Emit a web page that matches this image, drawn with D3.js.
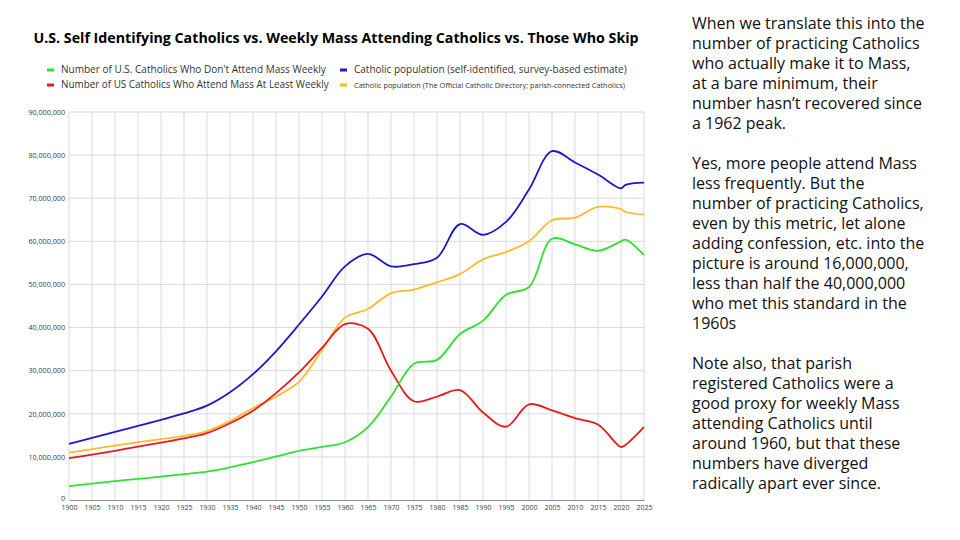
<!DOCTYPE html>
<html>
<head>
<meta charset="utf-8">
<script src="https://cdn.jsdelivr.net/npm/d3@7"></script>
<style>
  body { margin: 0; background: #fff; }
  svg { display: block; }
  .tick text { font-family: "Open Sans", sans-serif; fill: #404040; }
</style>
</head>
<body>
<div id="chart"></div>
<script>
// data
const years = [1900, 1905, 1910, 1915, 1920, 1925, 1930, 1935, 1940, 1945, 1950, 1955, 1960, 1965,
    1970, 1975, 1980, 1985, 1990, 1995, 2000, 2005, 2010, 2015, 2020, 2021, 2025];

const notAttending = [3.2, 3.8, 4.4, 4.9, 5.4, 6.0, 6.6, 7.6, 8.8, 10.1, 11.4, 12.3, 13.4, 16.9,
    24.0, 31.6, 32.5, 38.5, 41.6, 47.6, 49.4, 60.6, 59.3, 57.8, 60.0, 60.4, 56.8];
const weeklyAttending = [9.7, 10.5, 11.4, 12.4, 13.3, 14.3, 15.5, 17.8, 20.7, 24.8, 29.6, 35.3, 40.8, 39.7,
    30.0, 22.9, 24.0, 25.5, 20.3, 17.0, 22.2, 20.8, 19.0, 17.5, 12.3, 12.8, 16.9];
const selfIdentified = [13.0, 14.4, 15.8, 17.2, 18.6, 20.1, 21.9, 25.0, 29.2, 34.5, 40.7, 47.2, 54.2, 57.1,
    54.2, 54.7, 56.2, 64.0, 61.5, 64.5, 72.0, 80.9, 78.3, 75.5, 72.3, 73.1, 73.6];
const directory = [11.0, 11.8, 12.6, 13.4, 14.1, 14.9, 16.0, 18.3, 21.3, 24.0, 27.4, 34.8, 42.3, 44.3,
    48.0, 48.8, 50.5, 52.4, 55.8, 57.5, 60.0, 64.9, 65.5, 68.0, 67.5, 66.8, 66.2];

const xTicks = d3.range(1900, 2026, 5);
const yTicks = d3.range(0, 90000001, 10000000);

const title = "U.S. Self Identifying Catholics vs. Weekly Mass Attending Catholics vs. Those Who Skip";

const seriesNames = [
    "Number of U.S. Catholics Who Don't Attend Mass Weekly",
    "Catholic population (self-identified, survey-based estimate)",
    "Number of US Catholics Who Attend Mass At Least Weekly",
    "Catholic population (The Official Catholic Directory; parish-connected Catholics)"
];

const paragraphs = [
    ["When we translate this into the",
     "number of practicing Catholics",
     "who actually make it to Mass,",
     "at a bare minimum, their",
     "number hasn\u2019t recovered since",
     "a 1962 peak."],
    ["Yes, more people attend Mass",
     "less frequently. But the",
     "number of practicing Catholics,",
     "even by this metric, let alone",
     "adding confession, etc. into the",
     "picture is around 16,000,000,",
     "less than half the 40,000,000",
     "who met this standard in the",
     "1960s"],
    ["Note also, that parish",
     "registered Catholics were a",
     "good proxy for weekly Mass",
     "attending Catholics until",
     "around 1960, but that these",
     "numbers have diverged",
     "radically apart ever since."]
];

const width = 960, height = 540;
const margin = { top: 112, right: 316, bottom: 40, left: 69 };
const colors = { green: "#2fe22f", blue: "#1a1acb", red: "#e81c1c", yellow: "#f7bc2a" };

const svg = d3.select("#chart").append("svg")
    .attr("width", width)
    .attr("height", height);

const xScale = d3.scaleLinear().domain([1900, 2025]).range([margin.left, width - margin.right]);
const yScale = d3.scaleLinear().domain([0, 90000000]).range([height - margin.bottom, margin.top]);

// fit a text element to a target width by scaling its font size
function fitWidth(sel, target) {
    const w = sel.node().getComputedTextLength();
    const s = parseFloat(sel.attr("font-size"));
    sel.attr("font-size", s * target / w);
}

// grid
svg.append("g")
    .selectAll("line")
    .data(xTicks)
    .join("line")
    .attr("x1", d => xScale(d)).attr("x2", d => xScale(d))
    .attr("y1", yScale(90000000)).attr("y2", yScale(0))
    .attr("stroke", "#d9d9d9");

svg.append("g")
    .selectAll("line")
    .data(yTicks.slice(1))
    .join("line")
    .attr("x1", xScale(1900)).attr("x2", xScale(2025))
    .attr("y1", d => yScale(d)).attr("y2", d => yScale(d))
    .attr("stroke", "#d9d9d9");

// axes
const xAxis = svg.append("g")
    .attr("transform", `translate(0,${yScale(0)})`)
    .call(d3.axisBottom(xScale).tickValues(xTicks).tickFormat(d3.format("d")).tickSize(0).tickPadding(5));
xAxis.select(".domain").attr("stroke", "#8c8c8c").attr("stroke-width", 1.2);
xAxis.selectAll("text").attr("font-size", 7);

const yAxis = svg.append("g")
    .attr("transform", `translate(${margin.left},0)`)
    .call(d3.axisLeft(yScale).tickValues(yTicks).tickFormat(d3.format(",")).tickSize(0).tickPadding(4));
yAxis.select(".domain").remove();
yAxis.selectAll("text").attr("font-size", 7.2);
yAxis.selectAll(".tick").filter(d => d === 0).select("text").attr("dy", "0.1em");

// lines
const line = d3.line()
    .x((d, i) => xScale(years[i]))
    .y(d => yScale(d * 1000000))
    .curve(d3.curveCatmullRom);

const series = [
    { values: directory, color: colors.yellow },
    { values: selfIdentified, color: colors.blue },
    { values: weeklyAttending, color: colors.red },
    { values: notAttending, color: colors.green }
];

svg.append("g")
    .selectAll("path")
    .data(series)
    .join("path")
    .attr("d", d => line(d.values))
    .attr("fill", "none")
    .attr("stroke", d => d.color)
    .attr("stroke-width", 1.8);

// title
const titleText = svg.append("text")
    .attr("x", 336)
    .attr("y", 43)
    .attr("text-anchor", "middle")
    .attr("font-family", "'Open Sans', sans-serif")
    .attr("font-weight", "bold")
    .attr("font-size", 14)
    .attr("fill", "#000")
    .text(title);
fitWidth(titleText, 606);

// legend
const legendItems = [
    { name: seriesNames[0], color: colors.green, x: 47, y: 70, w: 265, size: 9 },
    { name: seriesNames[1], color: colors.blue, x: 340, y: 70, w: 273, size: 9 },
    { name: seriesNames[2], color: colors.red, x: 47, y: 85, w: 268, size: 9 },
    { name: seriesNames[3], color: colors.yellow, x: 340, y: 85, w: 271, size: 6.3 }
];

const legend = svg.append("g");
legendItems.forEach(item => {
    legend.append("line")
        .attr("x1", item.x).attr("x2", item.x + 7)
        .attr("y1", item.y).attr("y2", item.y)
        .attr("stroke", item.color)
        .attr("stroke-width", 3);
    const t = legend.append("text")
        .attr("x", item.x + 14)
        .attr("y", item.y + 3)
        .attr("font-family", "'Open Sans', sans-serif")
        .attr("font-size", item.size)
        .attr("fill", "#333")
        .text(item.name);
    fitWidth(t, item.w);
});

// side text
const side = svg.append("g")
    .attr("font-family", "'Open Sans', sans-serif")
    .attr("font-size", 16)
    .attr("fill", "#111");

const firstLine = side.append("text").attr("x", 692).attr("y", 29).text(paragraphs[0][0]);
fitWidth(firstLine, 241);
side.attr("font-size", firstLine.attr("font-size"));
firstLine.attr("font-size", null);

const startLines = [0, 7, 17];
paragraphs.forEach((para, p) => {
    para.forEach((str, i) => {
        if (p === 0 && i === 0) return;
        side.append("text")
            .attr("x", 692)
            .attr("y", 29 + (startLines[p] + i) * 20)
            .text(str);
    });
});
</script>
</body>
</html>
